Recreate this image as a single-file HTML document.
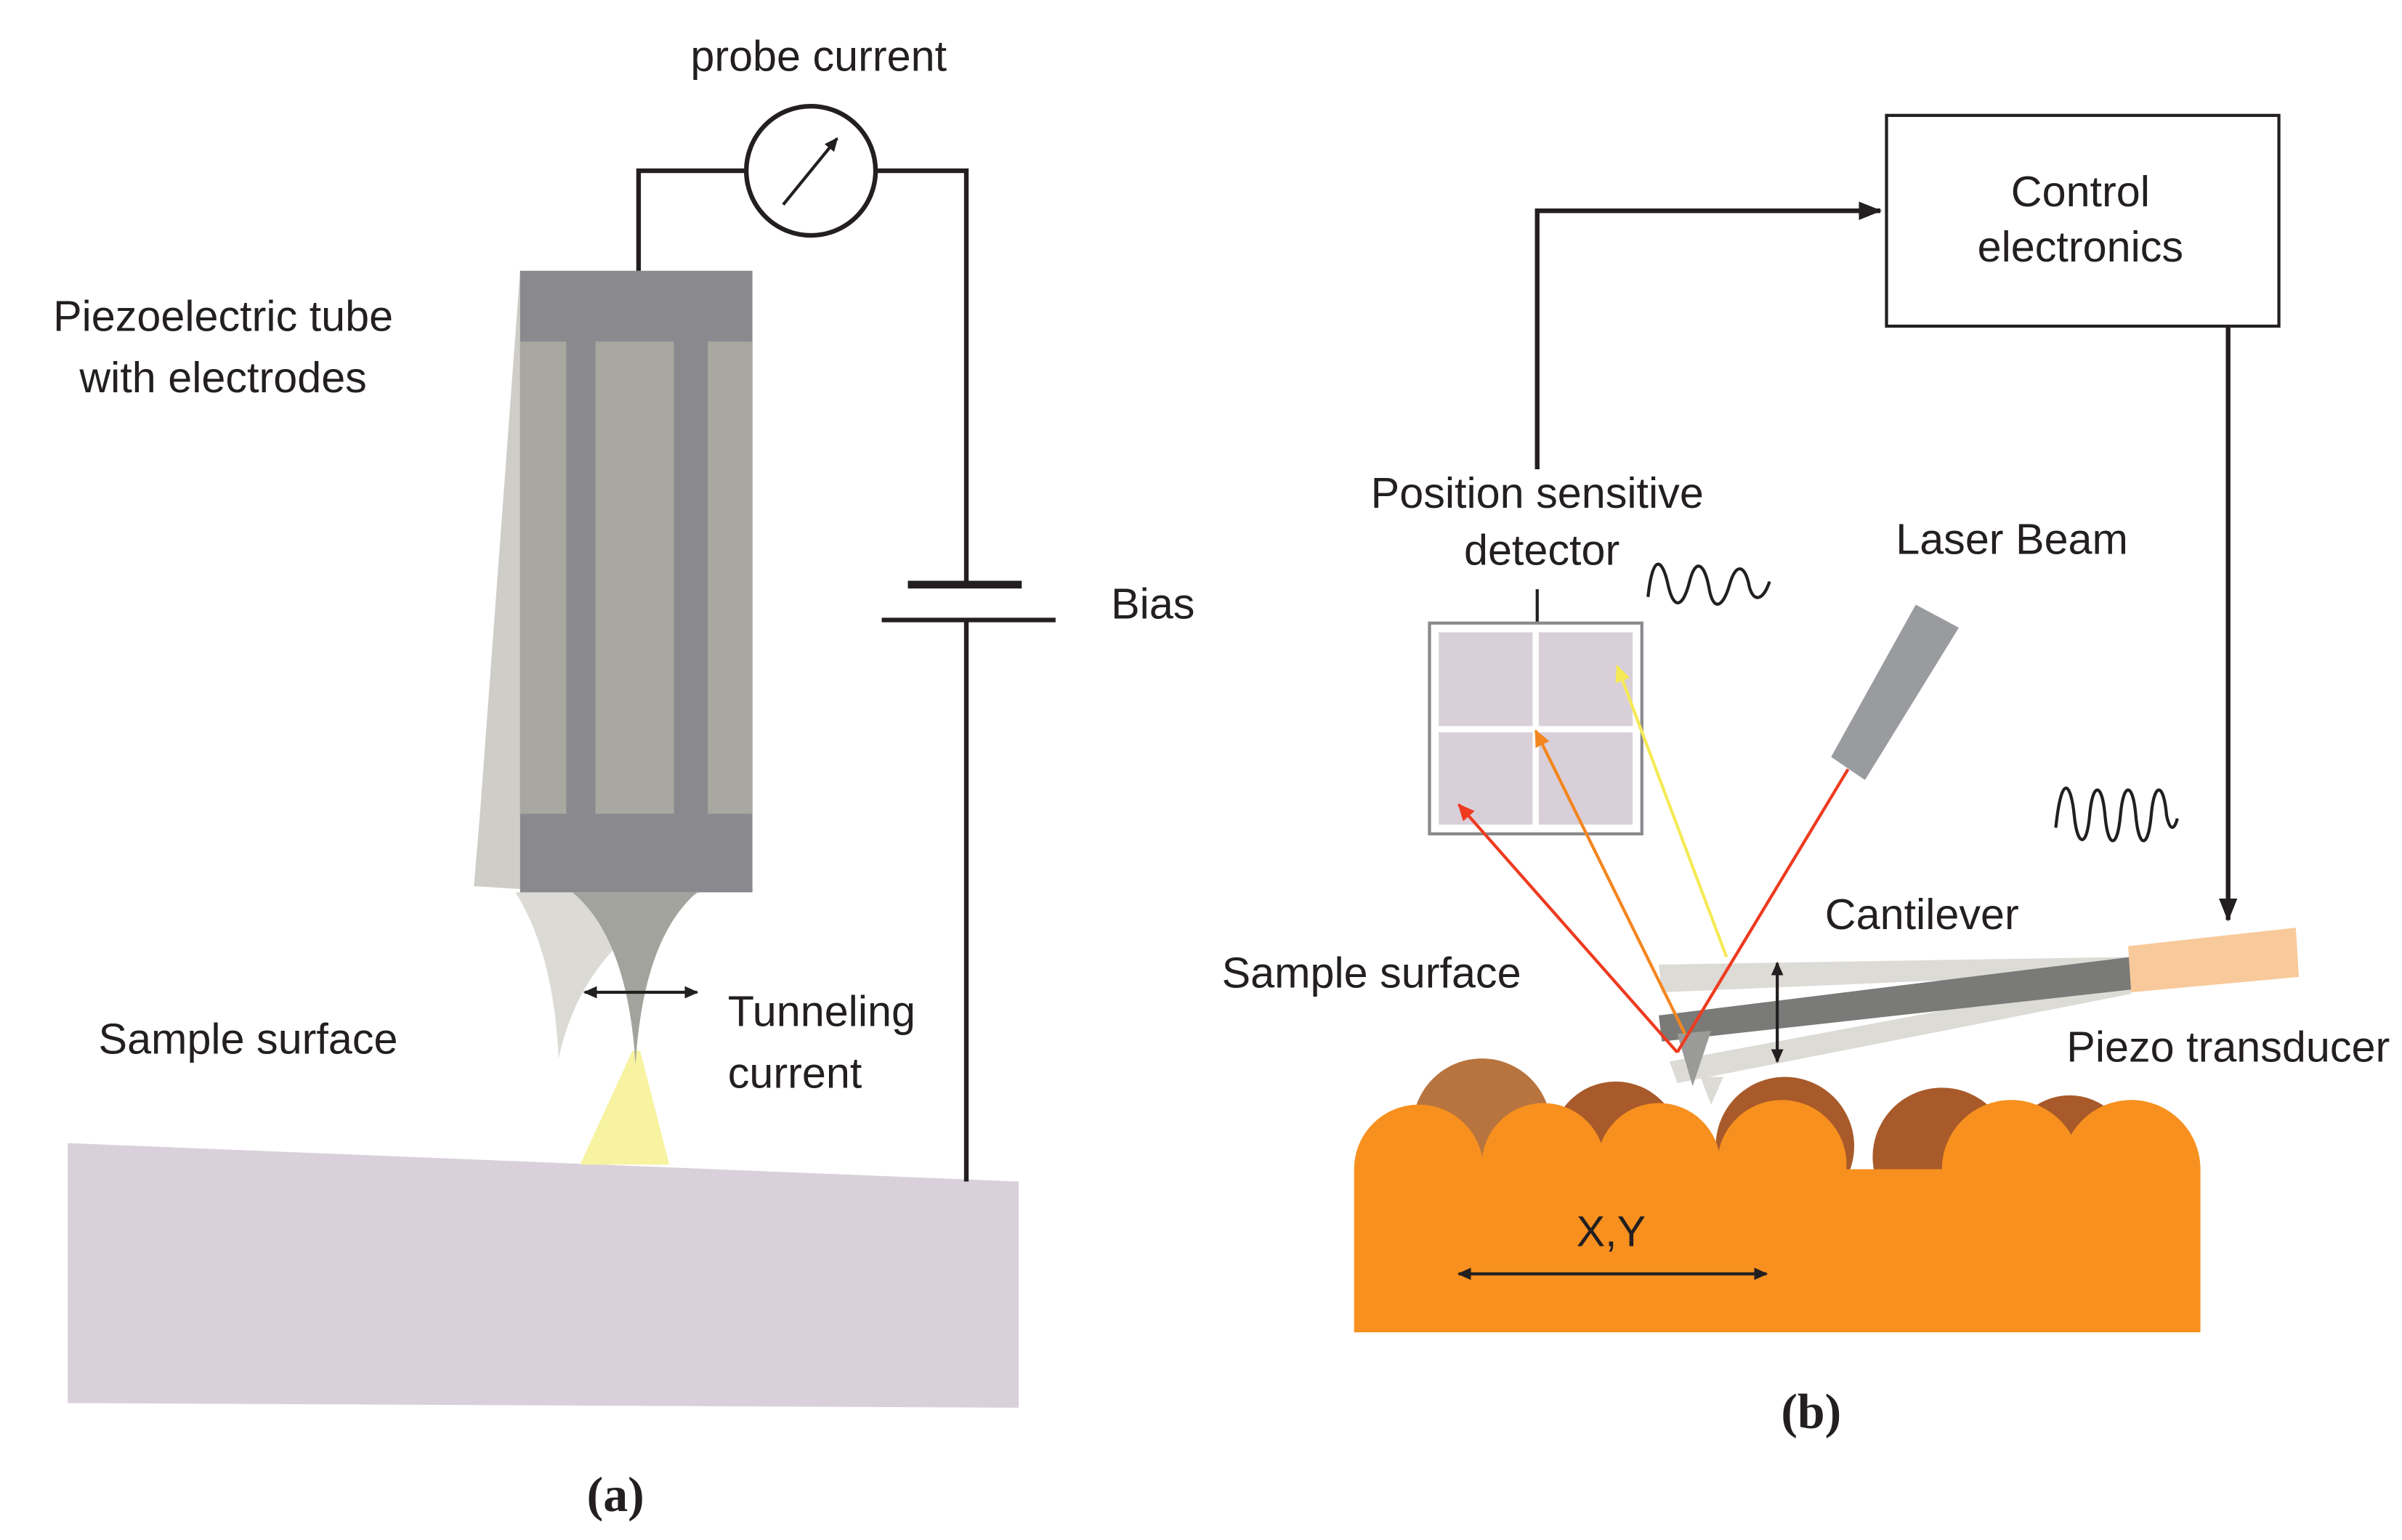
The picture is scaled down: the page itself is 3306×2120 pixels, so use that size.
<!DOCTYPE html>
<html><head><meta charset="utf-8"><style>
html,body{margin:0;padding:0;background:#fff;}
svg{display:block;}
text{font-family:"Liberation Sans",sans-serif;font-size:28px;fill:#231f20;}
</style></head><body>
<svg width="3306" height="2120" viewBox="0 0 1561 1001" xmlns="http://www.w3.org/2000/svg">
<defs>
<marker id="ah" markerWidth="10" markerHeight="10" refX="8" refY="5" orient="auto-start-reverse" markerUnits="userSpaceOnUse"><path d="M0,1 L9,5 L0,9 z" fill="#231f20"/></marker>
<marker id="ahL" markerWidth="16" markerHeight="14" refX="14" refY="7" orient="auto" markerUnits="userSpaceOnUse"><path d="M0,1 L15,7 L0,13 z" fill="#231f20"/></marker>
<marker id="ar" markerWidth="12" markerHeight="12" refX="10" refY="5" orient="auto" markerUnits="userSpaceOnUse"><path d="M0,0 L11,5 L0,10 z" fill="#ee3a1f"/></marker>
<marker id="ao" markerWidth="12" markerHeight="12" refX="10" refY="5" orient="auto" markerUnits="userSpaceOnUse"><path d="M0,0 L11,5 L0,10 z" fill="#f4861f"/></marker>
<marker id="ay" markerWidth="12" markerHeight="12" refX="10" refY="5" orient="auto" markerUnits="userSpaceOnUse"><path d="M0,0 L11,5 L0,10 z" fill="#f5ea55"/></marker>
</defs>

<!-- LEFT PANEL -->
<polygon points="44,743 662,768 662,915 44,912" fill="#d9d0db"/>
<polygon points="411,683 416,683 435,757 377,757" fill="#f7f3a0"/>
<!-- ghost tube -->
<polygon points="338,176 340,176 340,578 308,576 312,528" fill="#cfcdc8"/>
<path d="M335,580 Q360,620 363,688 Q380,610 455,580 Z" fill="#dcdad5"/>
<!-- tube -->
<rect x="338" y="176" width="151" height="404" fill="#8a898e"/>
<rect x="338" y="222" width="30" height="307" fill="#a8a8a0"/>
<rect x="387" y="222" width="51" height="307" fill="#a8a8a0"/>
<rect x="460" y="222" width="29" height="307" fill="#a8a8a0"/>
<path d="M372,580 Q408,610 413,692 Q418,610 453,580 Z" fill="#a3a39e"/>
<line x1="380" y1="645" x2="453" y2="645" stroke="#231f20" stroke-width="2" marker-start="url(#ah)" marker-end="url(#ah)"/>
<!-- circuit -->
<polyline points="415,176 415,111 485,111" fill="none" stroke="#231f20" stroke-width="3"/>
<circle cx="527" cy="111" r="42" fill="#fff" stroke="#231f20" stroke-width="3"/>
<line x1="509" y1="133" x2="544" y2="90" stroke="#231f20" stroke-width="2" marker-end="url(#ah)"/>
<polyline points="569,111 628,111 628,380" fill="none" stroke="#231f20" stroke-width="3"/>
<line x1="590" y1="380" x2="664" y2="380" stroke="#231f20" stroke-width="5"/>
<line x1="573" y1="403" x2="686" y2="403" stroke="#231f20" stroke-width="3"/>
<line x1="628" y1="403" x2="628" y2="768" stroke="#231f20" stroke-width="3"/>
<text x="532" y="46" text-anchor="middle">probe current</text>
<text x="145" y="215" text-anchor="middle">Piezoelectric tube</text>
<text x="145" y="255" text-anchor="middle">with electrodes</text>
<text x="722" y="402">Bias</text>
<text x="473" y="667">Tunneling</text>
<text x="473" y="707">current</text>
<text x="64" y="685">Sample surface</text>
<text x="400" y="982" text-anchor="middle" style="font-family:'Liberation Serif',serif;font-weight:bold;font-size:32px">(a)</text>

<!-- RIGHT PANEL -->
<rect x="1226" y="75" width="255" height="137" fill="#fff" stroke="#231f20" stroke-width="2"/>
<text x="1352" y="134" text-anchor="middle">Control</text>
<text x="1352" y="170" text-anchor="middle">electronics</text>
<polyline points="999,305 999,137 1222,137" fill="none" stroke="#231f20" stroke-width="3" marker-end="url(#ahL)"/>
<polyline points="1448,212 1448,598" fill="none" stroke="#231f20" stroke-width="3" marker-end="url(#ahL)"/>
<text x="999" y="330" text-anchor="middle">Position sensitive</text>
<text x="1002" y="367" text-anchor="middle">detector</text>
<line x1="999" y1="383" x2="999" y2="405" stroke="#231f20" stroke-width="2"/>
<path d="M1071,388 C1074,360 1080,362 1084,380 C1088,398 1094,394 1098,378 C1102,362 1108,366 1111,384 C1114,398 1120,394 1124,380 C1128,366 1134,366 1137,382 C1140,392 1146,390 1150,378" fill="none" stroke="#231f20" stroke-width="2"/>
<rect x="929" y="405" width="138" height="137" fill="#fff" stroke="#8a898e" stroke-width="2"/>
<rect x="935" y="411" width="61" height="61" fill="#d9cfd9"/>
<rect x="1000" y="411" width="61" height="61" fill="#d9cfd9"/>
<rect x="935" y="476" width="61" height="60" fill="#d9cfd9"/>
<rect x="1000" y="476" width="61" height="60" fill="#d9cfd9"/>
<text x="1232" y="360">Laser Beam</text>
<polygon points="1190,492 1245,393 1273,408 1212,507" fill="#9a9b9e"/>
<path d="M1336,538 C1340,500 1346,510 1348,530 C1350,550 1356,552 1358,530 C1360,508 1366,508 1368,530 C1370,552 1376,552 1378,530 C1380,508 1386,508 1388,530 C1390,552 1396,552 1398,530 C1400,508 1406,508 1408,530 C1410,540 1413,540 1415,532" fill="none" stroke="#231f20" stroke-width="2"/>
<!-- sample -->
<circle cx="963" cy="733" r="45" fill="#b8743f"/>
<circle cx="1050" cy="745" r="42" fill="#a85a2a"/>
<circle cx="1160" cy="745" r="45" fill="#a85a2a"/>
<circle cx="1262" cy="752" r="45" fill="#a85a2a"/>
<circle cx="1345" cy="752" r="40" fill="#a85a2a"/>
<rect x="880" y="760" width="550" height="106" fill="#f7901e"/>
<circle cx="922" cy="760" r="42" fill="#f7901e"/>
<circle cx="1003" cy="757" r="40" fill="#f7901e"/>
<circle cx="1078" cy="757" r="40" fill="#f7901e"/>
<circle cx="1158" cy="757" r="42" fill="#f7901e"/>
<circle cx="1307" cy="760" r="45" fill="#f7901e"/>
<circle cx="1385" cy="760" r="45" fill="#f7901e"/>
<rect x="1200" y="765" width="70" height="40" fill="#f7901e"/>
<text x="1047" y="810" text-anchor="middle">X,Y</text>
<line x1="948" y1="828" x2="1148" y2="828" stroke="#231f20" stroke-width="2" marker-start="url(#ah)" marker-end="url(#ah)"/>
<!-- cantilever -->
<polygon points="1078,627 1385,622 1385,632 1080,645" fill="#dcdbd6"/>
<polygon points="1085,690 1385,634 1385,646 1090,704" fill="#dcdbd6"/>
<polygon points="1105,700 1120,700 1112,718" fill="#dcdbd6"/>
<polygon points="1078,660 1385,622 1387,643 1080,677" fill="#7a7b78"/>
<polygon points="1090,672 1112,670 1100,706" fill="#9a9b98"/>
<line x1="1155" y1="626" x2="1155" y2="690" stroke="#231f20" stroke-width="2" marker-start="url(#ah)" marker-end="url(#ah)"/>
<polygon points="1383,615 1492,603 1494,635 1385,645" fill="#f8c99a"/>
<!-- beams -->
<line x1="1201" y1="500" x2="1090" y2="684" stroke="#ee3a1f" stroke-width="2"/>
<line x1="1090" y1="684" x2="948" y2="523" stroke="#ee3a1f" stroke-width="2" marker-end="url(#ar)"/>
<line x1="1095" y1="672" x2="998" y2="475" stroke="#f4861f" stroke-width="2" marker-end="url(#ao)"/>
<line x1="1122" y1="622" x2="1051" y2="433" stroke="#f5ea55" stroke-width="2" marker-end="url(#ay)"/>
<text x="1186" y="604">Cantilever</text>
<text x="794" y="642">Sample surface</text>
<text x="1343" y="690">Piezo transducer</text>
<text x="1177" y="928" text-anchor="middle" style="font-family:'Liberation Serif',serif;font-weight:bold;font-size:32px">(b)</text>
</svg>
</body></html>
